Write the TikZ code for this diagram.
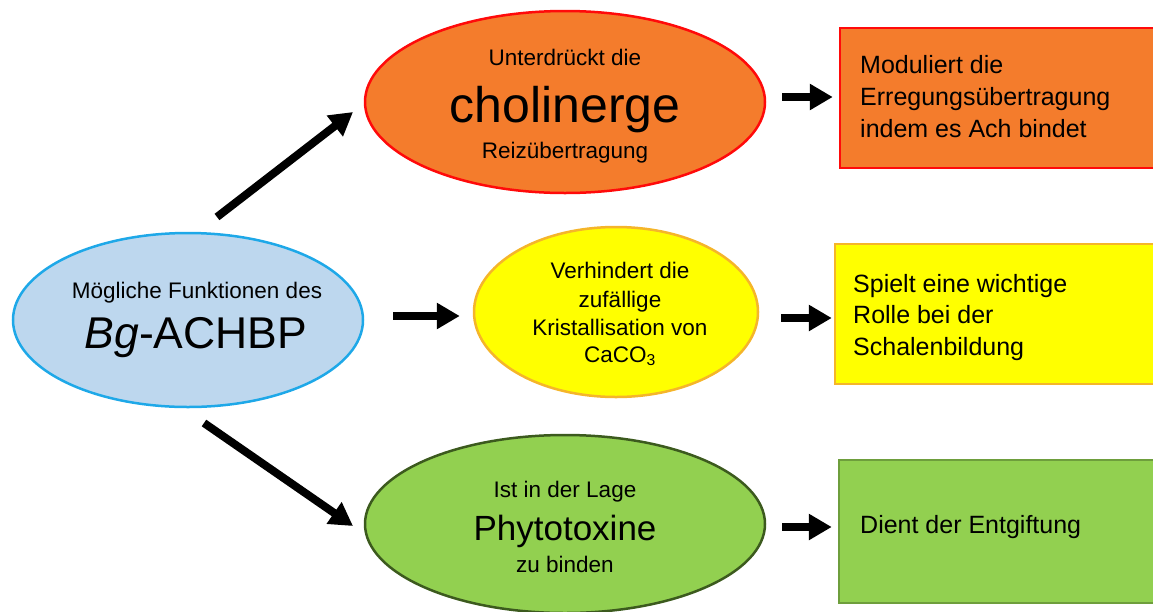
\documentclass[tikz,border=0pt]{standalone}
\usepackage{fontspec}
\setmainfont{Liberation Sans}
\usetikzlibrary{shapes.geometric,arrows.meta}
\definecolor{lblue}{HTML}{BDD7EE}
\definecolor{cyanb}{HTML}{1EA8E8}
\definecolor{orfill}{HTML}{F47C2C}
\definecolor{redb}{HTML}{FF0A0A}
\definecolor{yelfill}{HTML}{FFFF00}
\definecolor{yelb}{HTML}{F5B52A}
\definecolor{grfill}{HTML}{92D050}
\definecolor{grdark}{HTML}{3C5A1E}
\definecolor{grbox}{HTML}{6E9E3C}
\tikzset{
  ell/.style={ellipse, inner sep=0pt, line width=2.5pt},
  boxnode/.style={rectangle, inner sep=0pt, line width=2.5pt},
  arr/.style={line width=8pt, -{Triangle[length=23pt,width=25pt]}},
  small/.style={font=\fontsize{22.5}{26}\selectfont, inner sep=0pt},
  boxtxt/.style={font=\fontsize{25}{30}\selectfont, inner sep=0pt, anchor=base west},
}
\begin{document}
\begin{tikzpicture}[x=1pt,y=-1pt]
\useasboundingbox (0,0) rectangle (1153,611);
% shapes
\node[ell, fill=lblue, draw=cyanb, minimum width=350pt, minimum height=174pt] (left) at (188,320) {};
\node[ell, fill=orfill, draw=redb, minimum width=400pt, minimum height=182pt] (oe) at (565,102) {};
\node[ell, fill=yelfill, draw=yelb, minimum width=284pt, minimum height=170pt] (ye) at (616,312) {};
\node[ell, fill=grfill, draw=grdark, minimum width=400pt, minimum height=178pt] (ge) at (565,524) {};
\node[boxnode, fill=orfill, draw=redb, minimum width=320pt, minimum height=140pt] (ob) at (1000,98) {};
\node[boxnode, fill=yelfill, draw=yelb, minimum width=325pt, minimum height=140pt] (yb) at (997.5,314) {};
\node[boxnode, fill=grfill, draw=grbox, minimum width=321pt, minimum height=143pt] (gb) at (999.5,531.5) {};
% texts
\node[small, anchor=base] (t1) at (197,298) {Mögliche Funktionen des};
\node[font=\fontsize{44.5}{50}\selectfont, inner sep=0pt, anchor=base] (t2) at (196,348) {\textit{Bg}-ACHBP};
\node[small, anchor=base] (o1) at (565,65) {Unterdrückt die};
\node[font=\fontsize{50}{58}\selectfont, inner sep=0pt, anchor=base] (o2) at (565,122) {cholinerge};
\node[small, anchor=base] (o3) at (565,158) {Reizübertragung};
\node[small, anchor=base] (y1) at (620,278) {Verhindert die};
\node[small, anchor=base] (y2) at (620,307) {zufällige};
\node[small, anchor=base] (y3) at (620,335) {Kristallisation von};
\node[small, anchor=base] (y4) at (620,362) {CaCO\textsubscript{3}};
\node[small, anchor=base] (g1) at (565,497) {Ist in der Lage};
\node[font=\fontsize{35}{42}\selectfont, inner sep=0pt, anchor=base] (g2) at (565,540) {Phytotoxine};
\node[small, anchor=base] (g3) at (565,572) {zu binden};
\node[boxtxt] (b1) at (860,73) {Moduliert die};
\node[boxtxt] (b2) at (860,105) {Erregungsübertragung};
\node[boxtxt] (b3) at (860,137) {indem es Ach bindet};
\node[boxtxt] (c1) at (853,292) {Spielt eine wichtige};
\node[boxtxt] (c2) at (853,323) {Rolle bei der};
\node[boxtxt] (c3) at (853,355) {Schalenbildung};
\node[boxtxt] (d1) at (860,533) {Dient der Entgiftung};
% arrows
\coordinate (upS) at (217,217);
\coordinate (upE) at (353,112);
\coordinate (dnS) at (204,423);
\coordinate (dnE) at (353,526);
\draw[arr] (upS) -- (upE);
\draw[arr] (dnS) -- (dnE);
\draw[arr, shorten <=29pt, shorten >=13pt] (left.east |- 0,316) -- (ye.west |- 0,316);
\draw[arr, shorten <=16pt, shorten >=6pt] (oe.east |- 0,97) -- (ob.west |- 0,97);
\draw[arr, shorten <=22pt, shorten >=2pt] (ye.east |- 0,318) -- (yb.west |- 0,318);
\draw[arr, shorten <=16pt, shorten >=6pt] (ge.east |- 0,527) -- (gb.west |- 0,527);
\end{tikzpicture}
\end{document}
